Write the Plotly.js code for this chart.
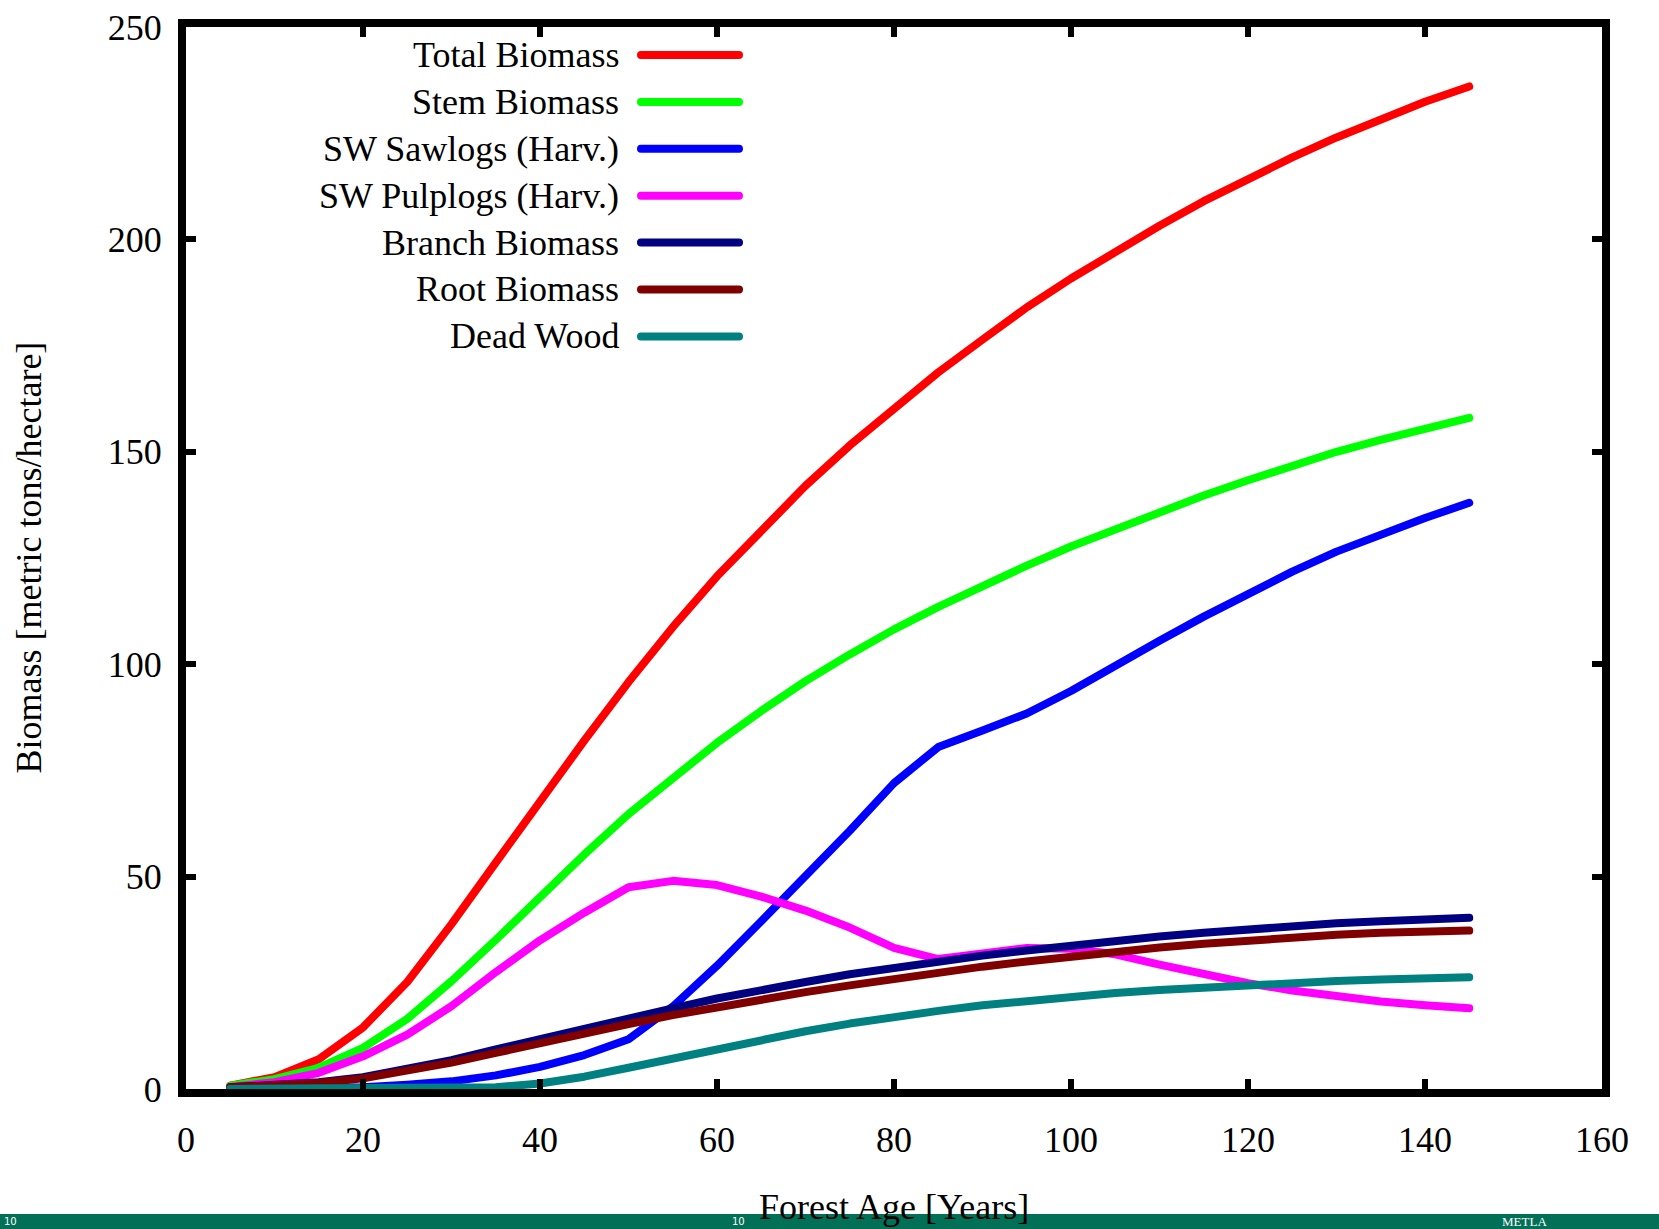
<!DOCTYPE html>
<html>
<head>
<meta charset="utf-8">
<script src="https://cdn.plot.ly/plotly-3.0.1.min.js"></script>
<style>
html,body{margin:0;padding:0;background:#fff;}
#chart{width:1659px;height:1229px;}
path.js-line{stroke-linecap:round !important;stroke-linejoin:round !important;}
.shapelayer path{stroke-linecap:round !important;}
</style>
</head>
<body>
<div id="chart"></div>
<script>
// ---- data ----
const forestAge = [5,10,15,20,25,30,35,40,45,50,55,60,65,70,75,80,85,90,95,100,105,110,115,120,125,130,135,140,145];

const totalBiomass = [0.8,2.8,7,14.5,25.2,38.8,53.3,68,82,95.8,108.7,120.7,131.2,142,151.5,160.3,168.7,176.4,184,190.8,197.2,203.2,209,214.3,219.3,224,228.4,232.4,236];
const stemBiomass  = [0.8,2.3,5,9.7,16.5,25.4,35.1,45.2,55.2,64.7,73.3,81.5,89,96,102.3,108.2,113.5,118.5,123.2,127.7,131.8,135.8,139.7,143.3,146.8,150,152.8,155.5,158];
const swSawlogs    = [0,0,0.1,0.4,1,1.8,3.2,5.2,8,11.7,19.4,29,39.5,50,60.8,72,80.5,84.4,88.4,93.7,99.8,105.5,111.2,116.7,121.8,126.5,130.6,134.4,138];
const swPulplogs   = [0.5,1.6,3.8,7.7,12.8,19.5,27.5,35,41.5,47.5,49,48,45.3,42,38,33.2,30.6,31.9,33.2,33,31.7,29.3,27,24.9,23.2,21.7,20.6,19.7,19];
const branchBiomass= [0.4,0.9,1.6,2.8,4.6,6.8,9.3,11.8,14.2,16.6,19,21.3,23.4,25.2,27,28.6,30,31.4,32.6,33.8,34.9,35.9,36.8,37.6,38.3,39,39.5,40,40.3];
const rootBiomass  = [0.4,0.8,1.4,2.5,4.2,6.2,8.5,10.9,13.2,15.3,17.4,19.3,21.1,22.8,24.4,26,27.4,28.8,30,31.2,32.3,33.3,34.2,35,35.7,36.3,36.8,37.1,37.3];
const deadWood     = [0,0,0,0,0,0.1,0.4,1.3,2.9,5,7.2,9.4,11.6,13.6,15.4,17,18.4,19.7,20.8,21.8,22.6,23.3,23.9,24.5,25,25.4,25.8,26.1,26.3];

const seriesNames = ["Total Biomass","Stem Biomass","SW Sawlogs (Harv.)","SW Pulplogs (Harv.)","Branch Biomass","Root Biomass","Dead Wood"];
const seriesValues = [totalBiomass,stemBiomass,swSawlogs,swPulplogs,branchBiomass,rootBiomass,deadWood];
const seriesColors = ["#ff0000","#00ff00","#0000ff","#ff00ff","#000080","#800000","#008080"];

const xTickVals = [0,20,40,60,80,100,120,140,160];
const yTickVals = [0,50,100,150,200,250];
const xTitle = "Forest Age [Years]";
const yTitle = "Biomass [metric tons/hectare]";
const footerTexts = ["10","10","METLA"];

// ---- chart ----
const FONT = "Liberation Serif, Times New Roman, serif";
const W = 1659, H = 1229, ML = 186, MR = 57, MT = 27, MB = 140;
const PW = W - ML - MR, PH = H - MT - MB;
const px = ax => (ax - ML) / PW;          // page pixel -> paper x
const py = ay => (H - MB - ay) / PH;      // page pixel -> paper y

const traces = seriesNames.map((n,i)=>({
  type:"scatter", mode:"lines", name:n, x:forestAge, y:seriesValues[i],
  line:{color:seriesColors[i], width:8}, showlegend:false, hoverinfo:"skip"
}));

// manual legend (text right-aligned, sample line on the right)
const annotations = [];
const shapes = [];
seriesNames.forEach((n,i)=>{
  const y = py(55 + i*46.9);
  annotations.push({xref:"paper",yref:"paper",x:px(621),y:y,xanchor:"right",yanchor:"middle",
    text:n,showarrow:false,font:{family:FONT,size:36,color:"#000"}});
  shapes.push({type:"line",xref:"paper",yref:"paper",x0:px(641),x1:px(739),y0:y,y1:y,
    line:{color:seriesColors[i],width:8},layer:"above"});
});

// y axis title
annotations.push({xref:"paper",yref:"paper",x:px(28.5),y:0.5,xanchor:"center",yanchor:"middle",
  textangle:-90,text:yTitle,showarrow:false,font:{family:FONT,size:36,color:"#000"}});

// green footer band (page decoration)
shapes.push({type:"rect",xref:"paper",yref:"paper",x0:-0.2,x1:1.1,y0:py(1235),y1:py(1214),
  fillcolor:"#026f57",line:{width:0},layer:"below"});
const footerX = [2, 730, 1500];
footerTexts.forEach((t,i)=>{
  annotations.push({xref:"paper",yref:"paper",x:px(footerX[i]),y:py(1221.5),xanchor:"left",yanchor:"middle",
    text:t,showarrow:false,font:{family:i===2?FONT:"DejaVu Sans",size:i===2?13:10,color:"#fff"}});
});

// x axis title
annotations.push({xref:"paper",yref:"paper",x:0.5,y:py(1207),xanchor:"center",yanchor:"middle",
  text:xTitle,showarrow:false,font:{family:FONT,size:36,color:"#000"}});

const axisCommon = {
  showline:true, linewidth:8, linecolor:"#000", mirror:"allticks",
  ticks:"inside", ticklen:10, tickwidth:6, tickcolor:"#000",
  showgrid:false, zeroline:false, fixedrange:true,
  tickfont:{family:FONT,size:36,color:"#000"}
};

const layout = {
  width:W, height:H,
  margin:{l:ML,r:MR,t:MT,b:MB,pad:0},
  paper_bgcolor:"#fff", plot_bgcolor:"#fff",
  showlegend:false,
  xaxis:Object.assign({},axisCommon,{range:[0,160],tickvals:xTickVals,ticktext:xTickVals.map(String),ticklabelstandoff:12}),
  yaxis:Object.assign({},axisCommon,{range:[0,250],tickvals:yTickVals,ticktext:yTickVals.map(String),ticklabelstandoff:9}),
  annotations:annotations,
  shapes:shapes
};

Plotly.newPlot("chart",traces,layout,{staticPlot:true,displayModeBar:false});
</script>
</body>
</html>
